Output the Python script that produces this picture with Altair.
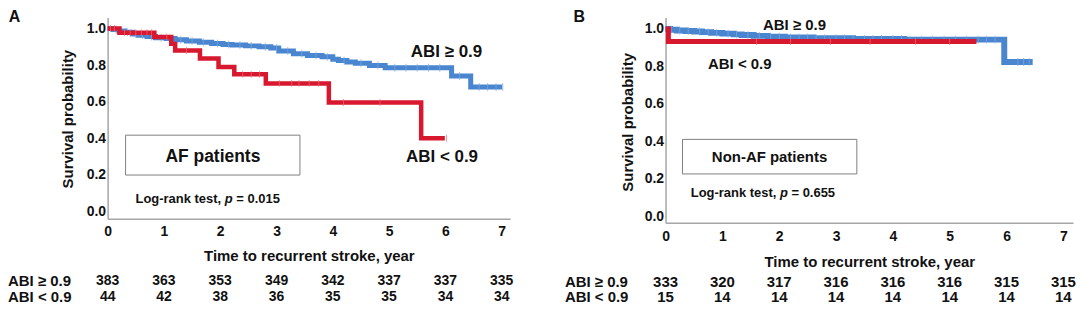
import altair as alt
import pandas as pd

FONT = "Liberation Sans"
BLUE = "#4a86cf"
RED = "#d7182f"
BLUE_TICK = "#7ea8e2"
RED_TICK = "#ee6b7b"
TXT = "#111111"

# ---------------- data ----------------
years = [0, 1, 2, 3, 4, 5, 6, 7]
y_ticks = [0.0, 0.2, 0.4, 0.6, 0.8, 1.0]
group_labels = ["ABI \u2265 0.9", "ABI < 0.9"]

# Panel A (AF patients)
a_hi_t = [0, 0.10, 0.20, 0.30, 0.44, 0.55, 0.70, 0.85, 1.04, 1.20, 1.40, 1.63, 1.85, 2.05, 2.21,
          2.45, 2.69, 2.90, 3.04, 3.30, 3.55, 3.81, 4.00, 4.10, 4.25, 4.40, 4.65, 4.93, 6.11, 6.45, 7.01]
a_hi_s = [1.000, 0.995, 0.987, 0.979, 0.970, 0.963, 0.956, 0.950, 0.945, 0.938, 0.932, 0.925, 0.918,
          0.913, 0.910, 0.905, 0.900, 0.893, 0.877, 0.862, 0.852, 0.846, 0.832, 0.825, 0.817, 0.810,
          0.798, 0.786, 0.740, 0.680, 0.680]
a_lo_t = [0, 0.21, 0.83, 1.13, 1.20, 1.64, 1.97, 2.25, 2.81, 3.93, 5.57, 5.99]
a_lo_s = [1.000, 0.977, 0.954, 0.916, 0.880, 0.836, 0.790, 0.750, 0.700, 0.596, 0.400, 0.400]
a_hi_cens = [0.15, 0.35, 0.50, 0.62, 0.78, 0.95, 1.10, 1.30, 1.50, 1.70, 1.95, 2.15, 2.35, 2.55, 2.80,
             3.00, 3.20, 3.45, 3.70, 3.90, 4.20, 4.50, 4.80, 5.10, 5.30, 5.50, 5.70, 5.90, 6.25, 6.60,
             6.75, 6.90, 7.02]
a_lo_cens = [0.05, 0.12, 0.30, 0.40, 0.50, 0.60, 0.70, 0.78, 1.05, 1.40, 2.40, 2.55, 2.70, 3.05, 3.27,
             3.40, 3.58, 3.75, 4.19, 4.84, 6.02]
a_risk_hi = [383, 363, 353, 349, 342, 337, 337, 335]
a_risk_lo = [44, 42, 38, 36, 35, 35, 34, 34]

# Panel B (Non-AF patients)
b_hi_t = [0, 0.08, 0.20, 0.35, 0.50, 0.64, 0.80, 1.00, 1.20, 1.34, 1.55, 1.80, 2.10, 2.60, 3.30,
          4.20, 5.96, 6.46]
b_hi_s = [1.000, 0.996, 0.992, 0.989, 0.986, 0.983, 0.979, 0.975, 0.971, 0.968, 0.963, 0.959, 0.955,
          0.950, 0.947, 0.943, 0.823, 0.823]
b_lo_t = [0, 0.05, 5.47]
b_lo_s = [1.000, 0.933, 0.933]
b_hi_cens = [0.10, 0.25, 0.40, 0.60, 0.75, 0.90, 1.10, 1.25, 1.45, 1.65, 1.85, 2.00, 2.20, 2.35, 2.50,
             2.65, 2.80, 3.00, 3.15, 3.30, 3.50, 3.65, 3.80, 4.00, 4.15, 4.30, 4.50, 4.70, 4.90, 5.10,
             5.30, 5.50, 5.65, 5.80, 6.20, 6.30, 6.40]
b_lo_cens = [1.60, 2.20, 2.90, 3.60, 4.40, 5.00]
b_risk_hi = [333, 320, 317, 316, 316, 316, 315, 315]
b_risk_lo = [15, 14, 14, 14, 14, 14, 14, 14]


def surv_at(ts, ss, t):
    v = ss[0]
    for ti, si in zip(ts, ss):
        if ti <= t:
            v = si
    return v


def panel(cfg):
    xs = alt.Scale(domain=cfg["xdom"], nice=False, zero=False)
    ys = alt.Scale(domain=cfg["ydom"], nice=False, zero=False)
    xaxis = alt.Axis(values=years, format="d", ticks=False, grid=False, domainColor="#a6a6a6",
                     domainWidth=1.5, labelFont=FONT, labelFontSize=cfg["lfs"], labelFontWeight="bold",
                     labelColor=TXT, labelPadding=cfg["xlp"], labelFlush=False,
                     title="Time to recurrent stroke, year", titleFont=FONT, titleFontSize=15,
                     titleFontWeight="bold", titleColor=TXT, titleY=cfg["xty"], titleBaseline="middle")
    yaxis = alt.Axis(values=y_ticks, format=".1f", ticks=False, grid=False, domainColor="#a6a6a6",
                     domainWidth=1.5, labelFont=FONT, labelFontSize=14, labelFontWeight="bold",
                     labelColor=TXT, labelPadding=2, labelFlush=False,
                     title="Survival probability", titleFont=FONT, titleFontSize=15,
                     titleFontWeight="bold", titleColor=TXT, titleX=cfg["ytx"], titleY=cfg["yty"],
                     titleAngle=270, titleBaseline="middle", titleAlign="center")
    X = alt.X("t:Q", scale=xs, axis=xaxis)
    Y = alt.Y("s:Q", scale=ys, axis=yaxis)

    hi = pd.DataFrame({"t": cfg["hi_t"], "s": cfg["hi_s"]})
    lo = pd.DataFrame({"t": cfg["lo_t"], "s": cfg["lo_s"]})
    hi_c = pd.DataFrame({"t": cfg["hi_c"], "s": [surv_at(cfg["hi_t"], cfg["hi_s"], t) for t in cfg["hi_c"]]})
    lo_c = pd.DataFrame({"t": cfg["lo_c"], "s": [surv_at(cfg["lo_t"], cfg["lo_s"], t) for t in cfg["lo_c"]]})

    line_hi = alt.Chart(hi).mark_line(interpolate="step-after", strokeWidth=cfg["bw"], color=BLUE,
                                       strokeCap="butt", strokeJoin="miter").encode(x=X, y=Y)
    line_lo = alt.Chart(lo).mark_line(interpolate="step-after", strokeWidth=cfg["rw"], color=RED,
                                       strokeCap="butt", strokeJoin="miter").encode(x=X, y=Y)
    tick_hi = alt.Chart(hi_c).mark_tick(orient="vertical", size=8, thickness=1, color=BLUE_TICK).encode(x=X, y=Y)
    tick_lo = alt.Chart(lo_c).mark_tick(orient="vertical", size=7, thickness=1, color=RED_TICK).encode(x=X, y=Y)

    box = pd.DataFrame({"t": [cfg["box"][0]], "t2": [cfg["box"][1]], "s": [cfg["box"][2]], "s2": [cfg["box"][3]]})
    box_l = alt.Chart(box).mark_rect(fill="white", stroke="#808080", strokeWidth=1).encode(
        x=X, x2="t2:Q", y=Y, y2="s2:Q")

    ann = pd.DataFrame({"t": [cfg["name_pos"][0]], "s": [cfg["name_pos"][1]], "label": [cfg["name"]]})
    name_l = alt.Chart(ann).mark_text(font=FONT, fontSize=cfg["nfs"], fontWeight="bold", color=TXT,
                                      align="center", baseline="middle").encode(x=X, y=Y, text="label:N")

    g = pd.DataFrame({"t": [cfg["hi_lab"][0], cfg["lo_lab"][0]], "s": [cfg["hi_lab"][1], cfg["lo_lab"][1]],
                      "label": group_labels})
    grp_l = alt.Chart(g).mark_text(font=FONT, fontSize=cfg["gfs"], fontWeight="bold", color=TXT,
                                   align="center", baseline="middle").encode(x=X, y=Y, text="label:N")

    lr = pd.DataFrame({"t": [cfg["lr"][0]], "s": [cfg["lr"][1]]})
    fs = 13
    lr1 = alt.Chart(lr).mark_text(font=FONT, fontSize=fs, fontWeight="bold", color=TXT, align="left",
                                  baseline="middle", text="Log-rank test,").encode(x=X, y=Y)
    lr2 = alt.Chart(lr).mark_text(font=FONT, fontSize=fs, fontWeight="bold", fontStyle="italic", color=TXT,
                                  align="left", baseline="middle", text="p", dx=6.89 * fs).encode(x=X, y=Y)
    lr3 = alt.Chart(lr).mark_text(font=FONT, fontSize=fs, fontWeight="bold", color=TXT, align="left",
                                  baseline="middle", text="= " + cfg["pval"],
                                  dx=(6.89 + 0.611 + 0.278) * fs).encode(x=X, y=Y)

    layers = [box_l, line_hi, tick_hi, line_lo, tick_lo, name_l, grp_l, lr1, lr2, lr3]

    for counts, ypix in [(cfg["risk_hi"], cfg["rows"][0]), (cfg["risk_lo"], cfg["rows"][1])]:
        d = pd.DataFrame({"t": years, "n": [str(c) for c in counts]})
        layers.append(alt.Chart(d).mark_text(font=FONT, fontSize=cfg["rfs"], fontWeight="bold", color=TXT,
                                             align="center", baseline="middle").encode(
            x=X, y=alt.value(ypix), text="n:N"))
    rl = pd.DataFrame({"label": group_labels, "row": [0, 1]})
    for i, lab in enumerate(group_labels):
        d = pd.DataFrame({"label": [lab]})
        layers.append(alt.Chart(d).mark_text(font=FONT, fontSize=15, fontWeight="bold", color=TXT,
                                             align="left", baseline="middle").encode(
            x=alt.value(cfg["rlx"]), y=alt.value(cfg["rows"][i]), text="label:N"))
    pl = pd.DataFrame({"label": [cfg["letter"]]})
    layers.append(alt.Chart(pl).mark_text(font=FONT, fontSize=16, fontWeight="bold", color=TXT,
                                          align="center", baseline="top").encode(
        x=alt.value(cfg["letter_x"]), y=alt.value(-9), text="label:N"))

    return alt.layer(*layers).properties(width=cfg["w"], height=cfg["h"])


cfgA = dict(xdom=[0, 7.15], ydom=[-0.04, 1.06], w=404, h=202, lfs=14, xlp=6, xty=37, ytx=-40, yty=101.5,
            hi_t=a_hi_t, hi_s=a_hi_s, lo_t=a_lo_t, lo_s=a_lo_s, hi_c=a_hi_cens, lo_c=a_lo_cens,
            bw=5, rw=4.5, box=[0.319, 3.416, 0.417, 0.199], name="AF patients", name_pos=[1.87, 0.299],
            nfs=17.5, hi_lab=[6.02, 0.869], lo_lab=[5.94, 0.299], gfs=17, lr=[0.496, 0.069],
            pval="0.015", risk_hi=a_risk_hi, risk_lo=a_risk_lo, rows=[264, 281], rfs=14, rlx=-100,
            letter="A", letter_x=-93.5)
cfgB = dict(xdom=[0, 7.17], ydom=[-0.0346, 1.061], w=409, h=206, lfs=14, xlp=7, xty=39, ytx=-38, yty=104.7,
            hi_t=b_hi_t, hi_s=b_hi_s, lo_t=b_lo_t, lo_s=b_lo_s, hi_c=b_hi_cens, lo_c=b_lo_cens,
            bw=6, rw=5, box=[0.298, 3.366, 0.4105, 0.226], name="Non-AF patients", name_pos=[1.83, 0.318],
            nfs=15, hi_lab=[2.27, 1.0185], lo_lab=[1.306, 0.815], gfs=15, lr=[0.4435, 0.126],
            pval="0.655", risk_hi=b_risk_hi, risk_lo=b_risk_lo, rows=[265, 281], rfs=15, rlx=-101,
            letter="B", letter_x=-86.5)

chart = alt.hconcat(panel(cfgA), panel(cfgB), spacing=156, bounds="flush").properties(
    padding=0
).configure_view(stroke=None)

chart.save("out.html", embed_options={"renderer": "svg", "actions": False})
